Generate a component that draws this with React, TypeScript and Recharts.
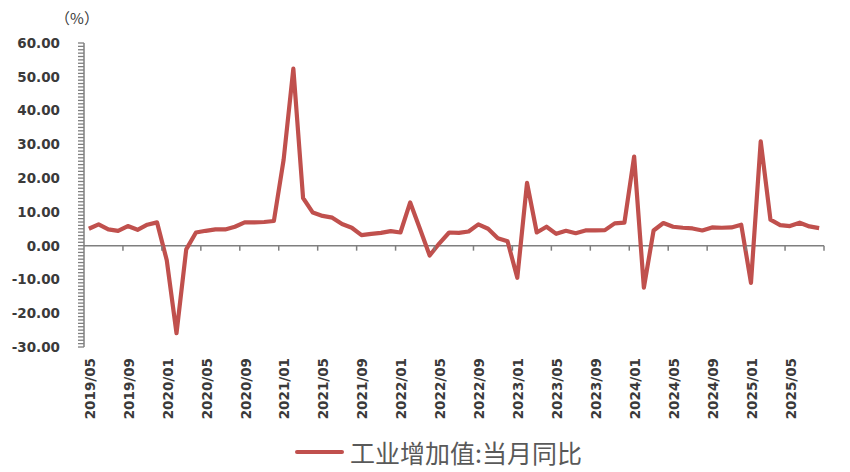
import React from "react";
import { LineChart, Line, XAxis, YAxis, ReferenceLine } from "recharts";

const months = [
  "2019/05", "2019/06", "2019/07", "2019/08", "2019/09", "2019/10", "2019/11", "2019/12",
  "2020/01", "2020/02", "2020/03", "2020/04", "2020/05", "2020/06", "2020/07", "2020/08", "2020/09", "2020/10", "2020/11", "2020/12",
  "2021/01", "2021/02", "2021/03", "2021/04", "2021/05", "2021/06", "2021/07", "2021/08", "2021/09", "2021/10", "2021/11", "2021/12",
  "2022/01", "2022/02", "2022/03", "2022/04", "2022/05", "2022/06", "2022/07", "2022/08", "2022/09", "2022/10", "2022/11", "2022/12",
  "2023/01", "2023/02", "2023/03", "2023/04", "2023/05", "2023/06", "2023/07", "2023/08", "2023/09", "2023/10", "2023/11", "2023/12",
  "2024/01", "2024/02", "2024/03", "2024/04", "2024/05", "2024/06", "2024/07", "2024/08", "2024/09", "2024/10", "2024/11", "2024/12",
  "2025/01", "2025/02", "2025/03", "2025/04", "2025/05", "2025/06", "2025/07", "2025/08",
];

// 工业增加值:当月同比 (%)
const growth = [
  5.0, 6.3, 4.8, 4.4, 5.8, 4.7, 6.2, 6.9,
  -4.3, -25.9, -1.1, 3.9, 4.4, 4.8, 4.8, 5.6, 6.9, 6.9, 7.0, 7.3,
  25.4, 52.4, 14.1, 9.8, 8.8, 8.3, 6.4, 5.3, 3.1, 3.5, 3.8, 4.3,
  3.9, 12.8, 5.0, -2.9, 0.7, 3.9, 3.8, 4.2, 6.3, 5.0, 2.2, 1.3,
  -9.5, 18.6, 3.9, 5.6, 3.5, 4.4, 3.7, 4.5, 4.5, 4.6, 6.6, 6.8,
  26.4, -12.4, 4.5, 6.7, 5.6, 5.3, 5.1, 4.5, 5.4, 5.3, 5.4, 6.2,
  -11.0, 30.9, 7.7, 6.1, 5.8, 6.8, 5.7, 5.2,
];

const yMajor = [-30, -20, -10, 0, 10, 20, 30, 40, 50, 60];
const yMinor = Array.from({ length: 91 }, (_, i) => i - 30);

const seriesName = "工业增加值:当月同比";

const data = months.map((m, i) => ({ month: m, value: growth[i] }));

const W = 850;
const H = 472;
const PLOT_LEFT = 84;
const PLOT_RIGHT = 824;
const PLOT_TOP = 43;
const PLOT_BOTTOM = 347;
const band = (PLOT_RIGHT - PLOT_LEFT) / months.length;
const zeroY =
  PLOT_TOP + ((PLOT_BOTTOM - PLOT_TOP) * yMajor[yMajor.length - 1]) / (yMajor[yMajor.length - 1] - yMajor[0]);

const RED = "#C0504D";
const AXIS = "#7f7f7f";
const LABEL = "#3a3a3a";

const XTick = (props: any) => {
  const { x, payload } = props;
  const idx = months.indexOf(payload.value);
  const left = x - band / 2;
  return (
    <g>
      {idx > 0 && (
        <line x1={left} x2={left} y1={zeroY} y2={zeroY + 5} stroke={AXIS} strokeWidth={1.5} />
      )}
      {idx + 4 >= months.length && (
        <line
          x1={PLOT_RIGHT}
          x2={PLOT_RIGHT}
          y1={zeroY}
          y2={zeroY + 5}
          stroke={AXIS}
          strokeWidth={1.5}
        />
      )}
      <text
        transform={`translate(${x + 1},${PLOT_BOTTOM + 11}) rotate(-90)`}
        textAnchor="end"
        dy="0.36em"
        fontFamily="DejaVu Sans"
        fontWeight="bold"
        fontSize={13.5}
        fill={LABEL}
      >
        {payload.value}
      </text>
    </g>
  );
};

const YTick = (props: any) => {
  const { y, payload } = props;
  const major = yMajor.indexOf(payload.value) >= 0;
  return (
    <g>
      <line x1={PLOT_LEFT - 6} x2={PLOT_LEFT} y1={y} y2={y} stroke={AXIS} strokeWidth={1.3} />
      {major && (
        <text
          x={60}
          y={y}
          dy="0.36em"
          textAnchor="end"
          fontFamily="DejaVu Sans"
          fontWeight="bold"
          fontSize={13.5}
          fill={LABEL}
        >
          {payload.value.toFixed(2)}
        </text>
      )}
    </g>
  );
};

export default function App() {
  return (
    <div style={{ position: "absolute", left: 0, top: 0, width: W, height: H, background: "#fff" }}>
      <LineChart
        width={W}
        height={H}
        data={data}
        margin={{ top: PLOT_TOP, right: W - PLOT_RIGHT, bottom: H - PLOT_BOTTOM - 85, left: 0 }}
      >
        <XAxis
          dataKey="month"
          interval={3}
          height={85}
          axisLine={false}
          tickLine={false}
          tick={<XTick />}
          padding={{ left: band / 2, right: band / 2 }}
        />
        <YAxis
          width={PLOT_LEFT}
          domain={[yMajor[0], yMajor[yMajor.length - 1]]}
          ticks={yMinor}
          interval={0}
          tickSize={6}
          axisLine={{ stroke: AXIS, strokeWidth: 1.5 }}
          tickLine={false}
          tick={<YTick />}
        />
        <ReferenceLine y={0} stroke={AXIS} strokeWidth={1.5} />
        <Line
          type="linear"
          dataKey="value"
          name={seriesName}
          stroke={RED}
          strokeWidth={4.2}
          strokeLinejoin="round"
          dot={false}
          isAnimationActive={false}
        />
        <text
          x={77}
          y={24}
          textAnchor="middle"
          fontFamily="Noto Sans CJK SC"
          fontSize={15}
          fill={LABEL}
        >
          （%）
        </text>
      </LineChart>
      <div
        style={{
          position: "absolute",
          left: 295,
          top: 434,
          display: "flex",
          alignItems: "center",
          fontFamily: "Noto Sans CJK SC",
          fontSize: 25,
          color: "#595959",
          whiteSpace: "nowrap",
        }}
      >
        <span
          style={{
            display: "inline-block",
            width: 49,
            height: 4,
            borderRadius: 2,
            background: RED,
            marginRight: 6,
          }}
        />
        <span>{seriesName}</span>
      </div>
    </div>
  );
}
